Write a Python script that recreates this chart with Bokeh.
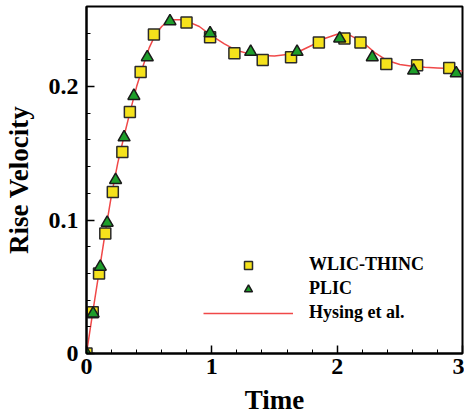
from bokeh.plotting import figure
from bokeh.models import FixedTicker, Legend, LegendItem
from bokeh.embed import file_html
from bokeh.resources import INLINE

# WLIC-THINC (squares)
wlic_t = [0.0, 0.05, 0.10, 0.15, 0.21, 0.286, 0.346, 0.432, 0.538, 0.798, 0.986, 1.18, 1.406, 1.632, 1.854, 2.058, 2.186, 2.392, 2.638, 2.894]
wlic_v = [0.0, 0.031, 0.060, 0.090, 0.121, 0.151, 0.181, 0.211, 0.239, 0.248, 0.237, 0.225, 0.220, 0.222, 0.233, 0.236, 0.233, 0.217, 0.216, 0.214]

# PLIC (triangles)
plic_t = [0.0, 0.053, 0.11, 0.165, 0.232, 0.30, 0.378, 0.485, 0.666, 0.986, 1.31, 1.68, 2.02, 2.28, 2.61, 2.95]
plic_v = [0.0, 0.030, 0.065, 0.098, 0.130, 0.162, 0.193, 0.222, 0.249, 0.240, 0.226, 0.226, 0.236, 0.222, 0.212, 0.210]

# Hysing et al. (reference curve)
hys_t = [0.0, 0.05, 0.10, 0.15, 0.20, 0.25, 0.30, 0.35, 0.40, 0.45, 0.50, 0.55, 0.60, 0.65, 0.70, 0.75, 0.80, 0.90,
         1.00, 1.10, 1.20, 1.30, 1.40, 1.50, 1.60, 1.70, 1.80, 1.90, 2.00, 2.05, 2.10, 2.20, 2.30, 2.40, 2.50, 2.60,
         2.70, 2.80, 2.90, 3.00]
hys_v = [0.0, 0.031, 0.061, 0.091, 0.119, 0.143, 0.163, 0.182, 0.200, 0.215, 0.229, 0.239, 0.245, 0.249, 0.250, 0.250, 0.249, 0.245,
         0.238, 0.232, 0.227, 0.2245, 0.2232, 0.223, 0.224, 0.2265, 0.231, 0.236, 0.2392, 0.2397, 0.2385, 0.2335, 0.2255, 0.2195, 0.2165, 0.2152,
         0.2145, 0.214, 0.2135, 0.2115]

x_ticks = [0, 1, 2, 3]
y_ticks = [0, 0.1, 0.2]

FONT = "Liberation Serif"

p = figure(width=464, height=418, x_range=(0, 3), y_range=(0, 0.26),
           output_backend="svg", toolbar_location=None,
           min_border_left=86, min_border_right=2, min_border_top=6, min_border_bottom=65)

p.grid.visible = False
p.outline_line_color = "black"
p.outline_line_width = 2
p.outline_line_alpha = 1.0
p.background_fill_color = "white"
p.border_fill_color = "white"

p.xaxis.ticker = FixedTicker(ticks=x_ticks, minor_ticks=[i * 0.2 for i in range(16)])
p.yaxis.ticker = FixedTicker(ticks=y_ticks, minor_ticks=[i * 0.02 for i in range(14)])
p.yaxis.major_label_overrides = {0: "0", 0.1: "0.1", 0.2: "0.2"}

for ax in (p.xaxis[0], p.yaxis[0]):
    ax.axis_line_width = 2
    ax.axis_line_color = "black"
    ax.major_tick_in = 8
    ax.major_tick_out = 0
    ax.minor_tick_in = 4
    ax.minor_tick_out = 0
    ax.major_tick_line_width = 1.5
    ax.minor_tick_line_width = 1
    ax.major_label_text_font = FONT
    ax.major_label_text_font_style = "bold"
    ax.major_label_text_font_size = "24px"
    ax.major_label_text_color = "black"
    ax.axis_label_text_font = FONT
    ax.axis_label_text_font_style = "bold"
    ax.axis_label_text_font_size = "27px"
    ax.axis_label_text_color = "black"

p.xaxis.axis_label = "Time"
p.yaxis.axis_label = "Rise Velocity"
p.xaxis.major_label_standoff = 5
p.yaxis.major_label_standoff = 8
p.xaxis.axis_label_standoff = 8
p.yaxis.axis_label_standoff = 12

line = p.line(hys_t, hys_v, line_color="#f04848", line_width=1.5)
sq = p.scatter(wlic_t, wlic_v, marker="square", size=11, fill_color="#f5e21c",
               line_color="#2a2a2a", line_width=1.5)
tri = p.scatter(plic_t, plic_v, marker="triangle", size=12, fill_color="#1e9e2a",
                line_color="#1a1a1a", line_width=1.5)

legend = Legend(items=[LegendItem(label="WLIC-THINC", renderers=[sq]),
                       LegendItem(label="PLIC", renderers=[tri]),
                       LegendItem(label="Hysing et al.", renderers=[line])],
                location=(117, 30), border_line_color=None, background_fill_alpha=0,
                padding=0, margin=0, spacing=3, glyph_width=90, glyph_height=20,
                label_height=20, label_standoff=16,
                label_text_font=FONT, label_text_font_style="bold",
                label_text_font_size="18px", label_text_color="black")
p.add_layout(legend)

open("out.html", "w").write(file_html(p, INLINE))
